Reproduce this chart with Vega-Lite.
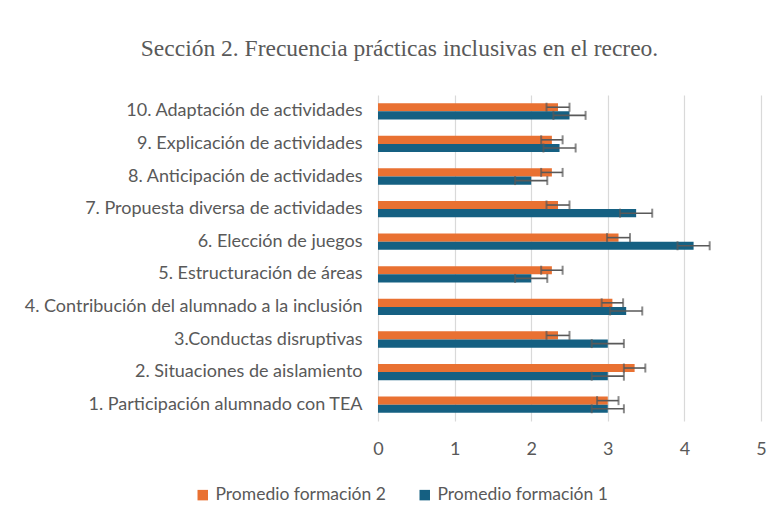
{
  "$schema": "https://vega.github.io/schema/vega-lite/v6.json",
  "autosize": "none",
  "width": 383,
  "height": 326,
  "padding": {"left": 378, "top": 95, "right": 21, "bottom": 108},
  "background": "white",
  "title": {
    "text": "Sección 2. Frecuencia prácticas inclusivas en el recreo.",
    "font": "Liberation Serif",
    "fontSize": 23.5,
    "fontWeight": "normal",
    "color": "#595959",
    "anchor": "middle",
    "dx": -170,
    "offset": 35
  },
  "data": {
    "values": [
      {"item": "10. Adaptación de actividades", "serie": "Promedio formación 2", "value": 2.35, "err": 0.15},
      {"item": "10. Adaptación de actividades", "serie": "Promedio formación 1", "value": 2.5, "err": 0.21},
      {"item": "9. Explicación de actividades", "serie": "Promedio formación 2", "value": 2.27, "err": 0.14},
      {"item": "9. Explicación de actividades", "serie": "Promedio formación 1", "value": 2.37, "err": 0.21},
      {"item": "8. Anticipación de actividades", "serie": "Promedio formación 2", "value": 2.27, "err": 0.14},
      {"item": "8. Anticipación de actividades", "serie": "Promedio formación 1", "value": 2.0, "err": 0.21},
      {"item": "7. Propuesta diversa de actividades ", "serie": "Promedio formación 2", "value": 2.35, "err": 0.15},
      {"item": "7. Propuesta diversa de actividades ", "serie": "Promedio formación 1", "value": 3.37, "err": 0.21},
      {"item": "6. Elección de juegos", "serie": "Promedio formación 2", "value": 3.14, "err": 0.15},
      {"item": "6. Elección de juegos", "serie": "Promedio formación 1", "value": 4.12, "err": 0.21},
      {"item": "5. Estructuración de áreas", "serie": "Promedio formación 2", "value": 2.27, "err": 0.14},
      {"item": "5. Estructuración de áreas", "serie": "Promedio formación 1", "value": 2.0, "err": 0.21},
      {"item": "4. Contribución del alumnado a la inclusión", "serie": "Promedio formación 2", "value": 3.06, "err": 0.14},
      {"item": "4. Contribución del alumnado a la inclusión", "serie": "Promedio formación 1", "value": 3.24, "err": 0.21},
      {"item": "3.Conductas disruptivas", "serie": "Promedio formación 2", "value": 2.35, "err": 0.15},
      {"item": "3.Conductas disruptivas", "serie": "Promedio formación 1", "value": 3.0, "err": 0.21},
      {"item": "2. Situaciones de aislamiento", "serie": "Promedio formación 2", "value": 3.35, "err": 0.14},
      {"item": "2. Situaciones de aislamiento", "serie": "Promedio formación 1", "value": 3.0, "err": 0.21},
      {"item": "1. Participación alumnado con TEA", "serie": "Promedio formación 2", "value": 3.0, "err": 0.14},
      {"item": "1. Participación alumnado con TEA", "serie": "Promedio formación 1", "value": 3.0, "err": 0.21}
    ]
  },
  "transform": [
    {"calculate": "datum.value - datum.err", "as": "lo"},
    {"calculate": "datum.value + datum.err", "as": "hi"}
  ],
  "encoding": {
    "y": {
      "field": "item",
      "type": "nominal",
      "sort": null,
      "scale": {"paddingInner": 0.5, "paddingOuter": 0.25},
      "axis": {
        "title": null,
        "domain": false,
        "ticks": false,
        "labelPadding": 16,
        "labelFont": "Lato",
        "labelFontSize": 18,
        "labelColor": "#595959",
        "labelLimit": 400
      }
    },
    "yOffset": {
      "field": "serie",
      "type": "nominal",
      "sort": ["Promedio formación 2", "Promedio formación 1"]
    }
  },
  "layer": [
    {
      "mark": {"type": "bar"},
      "encoding": {
        "x": {
          "field": "value",
          "type": "quantitative",
          "scale": {"domain": [0, 5], "nice": false},
          "axis": {
            "title": null,
            "domain": false,
            "ticks": false,
            "values": [0, 1, 2, 3, 4, 5],
            "format": "d",
            "labelOverlap": false,
            "labelFlush": false,
            "labelPadding": 19,
            "labelFont": "Lato",
            "labelFontSize": 18,
            "labelColor": "#595959",
            "gridColor": "#D9D9D9",
            "gridWidth": 1.2
          }
        },
        "color": {
          "field": "serie",
          "type": "nominal",
          "sort": ["Promedio formación 2", "Promedio formación 1"],
          "scale": {
            "domain": ["Promedio formación 2", "Promedio formación 1"],
            "range": ["#E97132", "#156082"]
          },
          "legend": {
            "title": null,
            "orient": "none",
            "direction": "horizontal",
            "legendX": -184,
            "legendY": 391,
            "symbolType": "square",
            "symbolSize": 110,
            "symbolStrokeWidth": 0,
            "labelFont": "Lato",
            "labelFontSize": 17.5,
            "labelColor": "#595959",
            "labelLimit": 300,
            "labelOffset": 4,
            "columnPadding": 30
          }
        }
      }
    },
    {
      "mark": {"type": "rule", "color": "#595959", "strokeWidth": 1.6},
      "encoding": {
        "x": {"field": "lo", "type": "quantitative"},
        "x2": {"field": "hi"}
      }
    },
    {
      "mark": {"type": "tick", "color": "#595959", "thickness": 2, "size": 9},
      "encoding": {"x": {"field": "lo", "type": "quantitative"}}
    },
    {
      "mark": {"type": "tick", "color": "#595959", "thickness": 2, "size": 9},
      "encoding": {"x": {"field": "hi", "type": "quantitative"}}
    }
  ],
  "config": {
    "view": {"stroke": null},
    "axis": {"gridColor": "#D9D9D9"}
  }
}
